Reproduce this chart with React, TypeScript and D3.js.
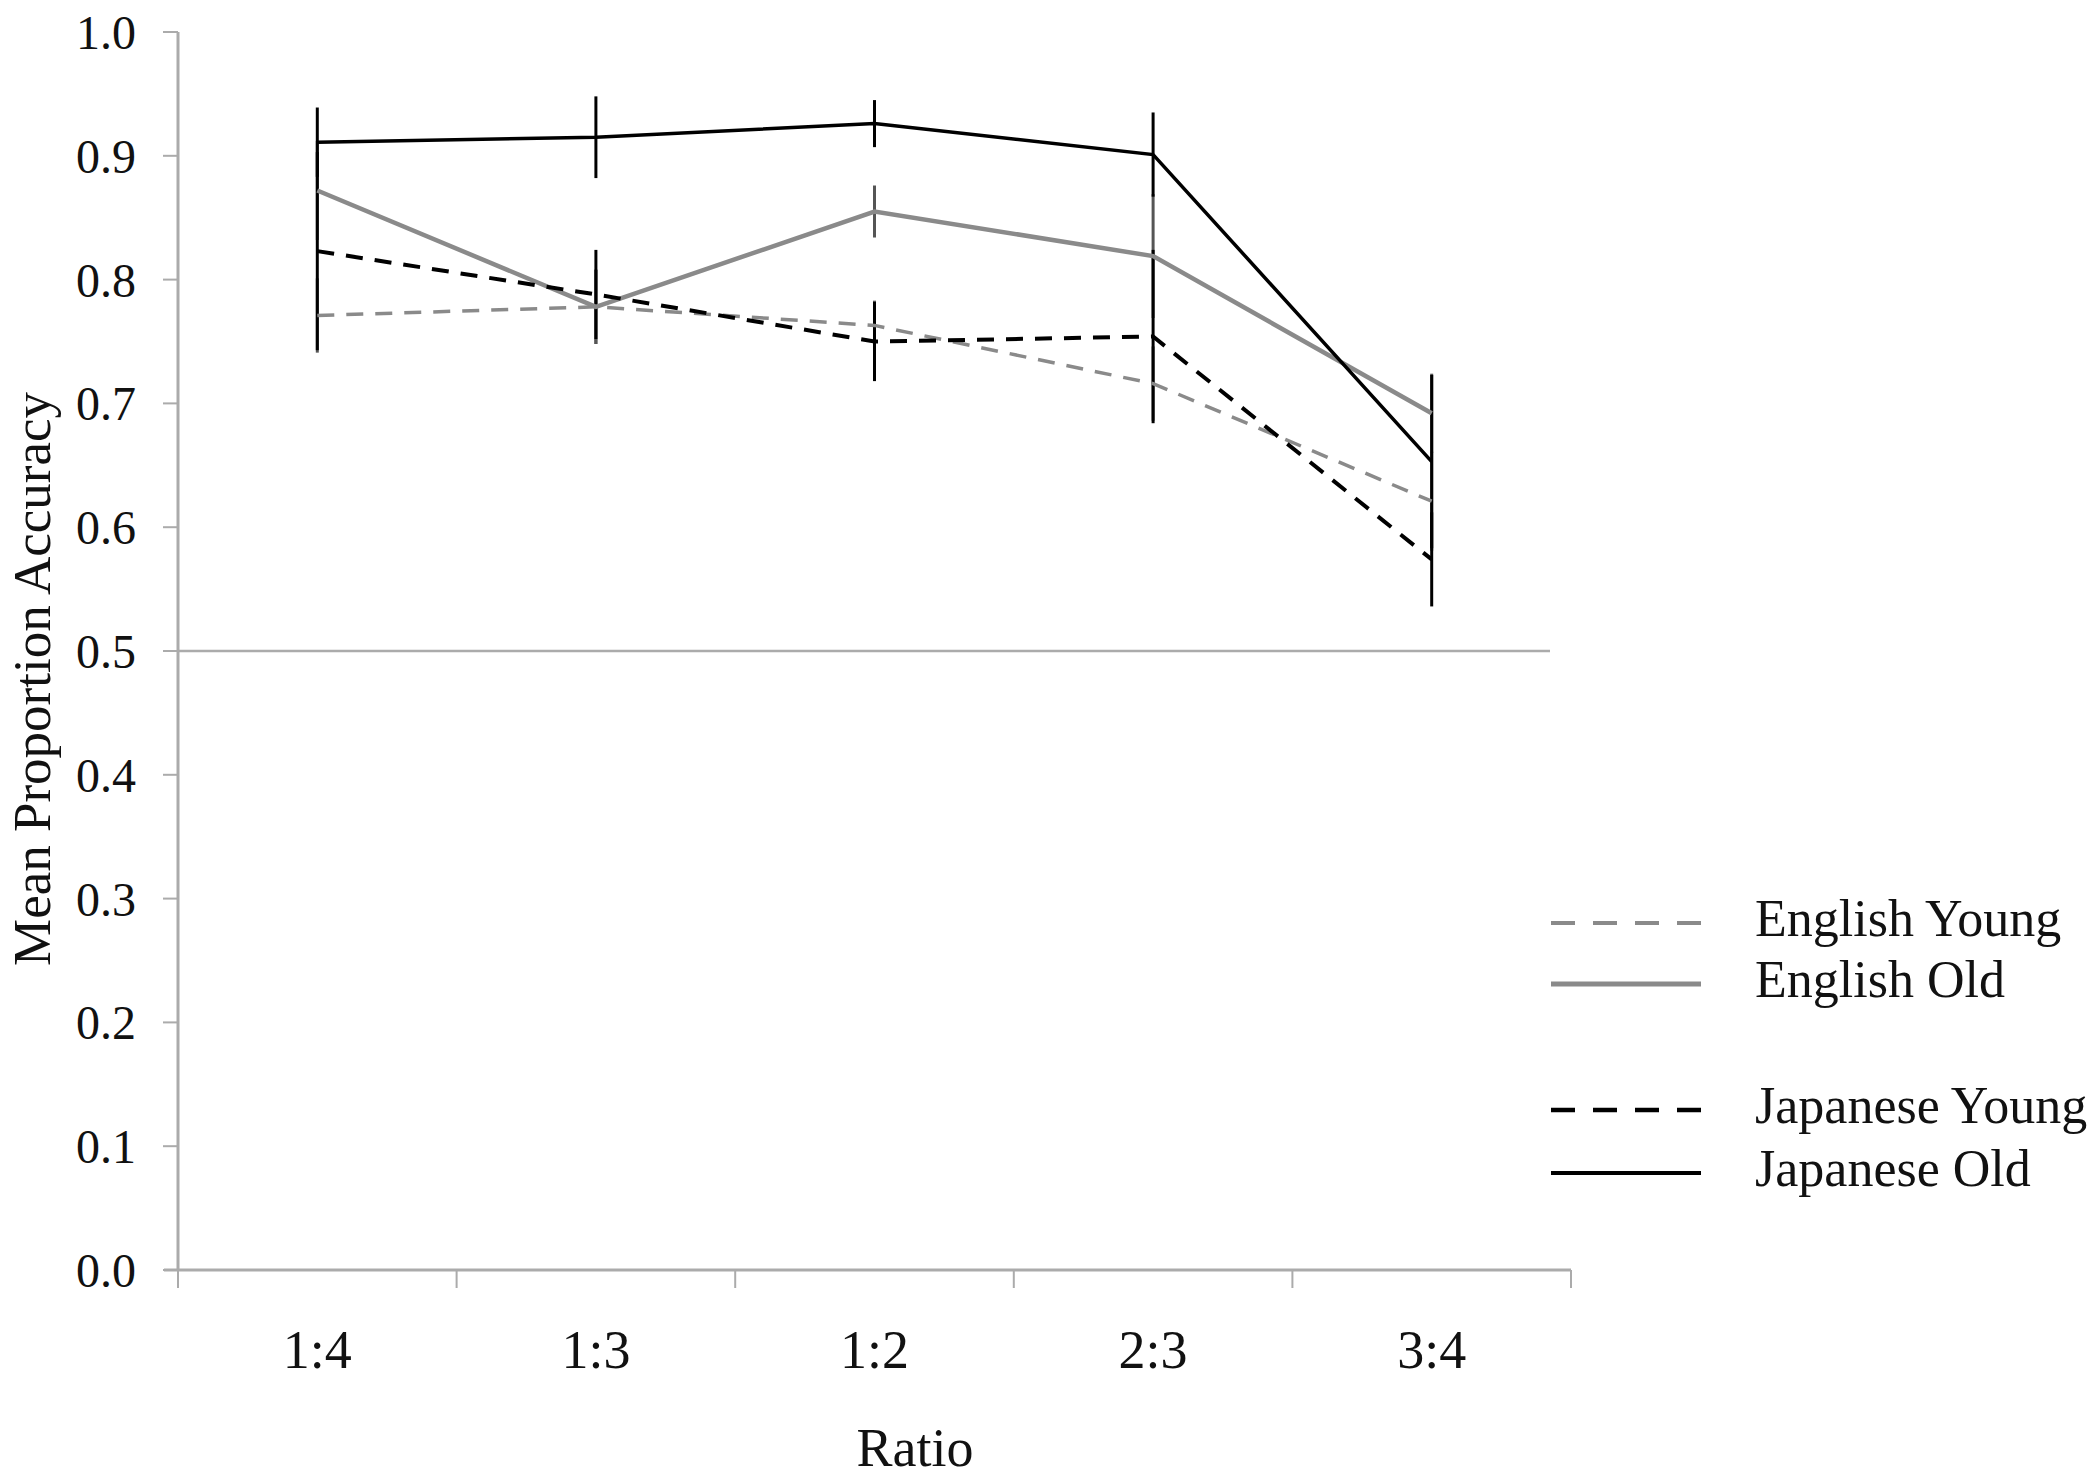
import React from "react";
import * as d3 from "d3";

const categories = ["1:4", "1:3", "1:2", "2:3", "3:4"];
const yTicks = [0, 0.1, 0.2, 0.3, 0.4, 0.5, 0.6, 0.7, 0.8, 0.9, 1.0];

const seriesNames = ["English Young", "English Old", "Japanese Young", "Japanese Old"];
const englishYoung = [0.771, 0.778, 0.763, 0.716, 0.621];
const englishOld = [0.872, 0.778, 0.855, 0.819, 0.692];
const japaneseYoung = [0.823, 0.788, 0.75, 0.754, 0.574];
const japaneseOld = [0.911, 0.915, 0.926, 0.901, 0.653];

const englishYoungErr = [0.03, 0.03, 0.02, 0.03, 0.04];
const englishOldErr = [0.04, 0.03, 0.021, 0.05, 0.032];
const japaneseYoungErr = [0.08, 0.036, 0.032, 0.07, 0.038];
const japaneseOldErr = [0.028, 0.033, 0.019, 0.034, 0.07];

const W = 2100;
const H = 1479;
const GRAY = "#8a8a8a";
const AXIS = "#ababab";
const FONT = "'Liberation Serif', 'Times New Roman', serif";

type Series = {
  name: string;
  values: number[];
  errs: number[];
  color: string;
  barColor: string;
  width: number;
  dash: string | undefined;
  legendDash: string | undefined;
};

const series: Series[] = [
  { name: seriesNames[0], values: englishYoung, errs: englishYoungErr, color: GRAY, barColor: "#555", width: 3.5, dash: "17,12", legendDash: "24,18" },
  { name: seriesNames[1], values: englishOld, errs: englishOldErr, color: GRAY, barColor: "#555", width: 4.5, dash: undefined, legendDash: undefined },
  { name: seriesNames[2], values: japaneseYoung, errs: japaneseYoungErr, color: "#000", barColor: "#000", width: 4, dash: "17,12", legendDash: "24,18" },
  { name: seriesNames[3], values: japaneseOld, errs: japaneseOldErr, color: "#000", barColor: "#000", width: 3.5, dash: undefined, legendDash: undefined },
];

export default function App() {
  const x0 = 178;
  const x1 = 1571;
  const yTop = 32;
  const yBot = 1270;

  const x = d3.scaleBand<string>().domain(categories).range([x0, x1]).paddingInner(0).paddingOuter(0);
  const y = d3.scaleLinear().domain([0, 1]).range([yBot, yTop]);
  const cx = (c: string) => (x(c) as number) + x.bandwidth() / 2;

  const line = d3
    .line<number>()
    .x((_, i) => cx(categories[i]))
    .y((v) => y(v));

  const boundaries = categories.map((c) => x(c) as number).concat([x1]);

  const legendRows = [923, 984, 1110, 1173];

  return (
    <svg
      width={W}
      height={H}
      viewBox={`0 0 ${W} ${H}`}
      style={{ position: "absolute", left: 0, top: 0, background: "#fff" }}
    >
      <rect x={0} y={0} width={W} height={H} fill="#fff" />

      {/* 0.5 reference line */}
      <line x1={x0} x2={1550} y1={y(0.5)} y2={y(0.5)} stroke={AXIS} strokeWidth={2.5} />

      {/* y axis */}
      <line x1={x0} x2={x0} y1={y(1)} y2={yBot} stroke={AXIS} strokeWidth={3} />
      {yTicks.map((t) => (
        <g key={`yt${t}`}>
          <line x1={163} x2={x0} y1={y(t)} y2={y(t)} stroke={AXIS} strokeWidth={2} />
          <text
            x={136}
            y={y(t) + 17}
            textAnchor="end"
            fontFamily={FONT}
            fontSize={48}
            fill="#111"
          >
            {t.toFixed(1)}
          </text>
        </g>
      ))}

      {/* x axis */}
      <line x1={x0 - 14} x2={x1} y1={yBot} y2={yBot} stroke={AXIS} strokeWidth={3} />
      {boundaries.map((b, i) => (
        <line key={`xt${i}`} x1={b} x2={b} y1={yBot} y2={1288} stroke={AXIS} strokeWidth={2} />
      ))}
      {categories.map((c) => (
        <text
          key={`xl${c}`}
          x={cx(c)}
          y={1368}
          textAnchor="middle"
          fontFamily={FONT}
          fontSize={54}
          fill="#111"
        >
          {c}
        </text>
      ))}

      {/* axis titles */}
      <text x={915} y={1466} textAnchor="middle" fontFamily={FONT} fontSize={54} fill="#111">
        Ratio
      </text>
      <text
        transform={`translate(50, 679) rotate(-90)`}
        textAnchor="middle"
        fontFamily={FONT}
        fontSize={53}
        fill="#111"
      >
        Mean Proportion Accuracy
      </text>

      {/* error bars */}
      {series.map((s) =>
        s.values.map((v, i) => (
          <line
            key={`eb${s.name}${i}`}
            x1={cx(categories[i])}
            x2={cx(categories[i])}
            y1={y(v + s.errs[i])}
            y2={y(v - s.errs[i])}
            stroke={s.barColor}
            strokeWidth={3}
          />
        ))
      )}

      {/* series lines */}
      {series.map((s) => (
        <path
          key={`ln${s.name}`}
          d={line(s.values) || ""}
          fill="none"
          stroke={s.color}
          strokeWidth={s.width}
          strokeDasharray={s.dash}
          strokeLinejoin="miter"
        />
      ))}

      {/* legend */}
      {series.map((s, i) => (
        <g key={`lg${s.name}`}>
          <line
            x1={1551}
            x2={1701}
            y1={legendRows[i]}
            y2={legendRows[i]}
            stroke={s.color}
            strokeWidth={s.width + 0.5}
            strokeDasharray={s.legendDash}
          />
          <text
            x={1755}
            y={legendRows[i] + 13}
            fontFamily={FONT}
            fontSize={52}
            fill="#111"
          >
            {s.name}
          </text>
        </g>
      ))}
    </svg>
  );
}
